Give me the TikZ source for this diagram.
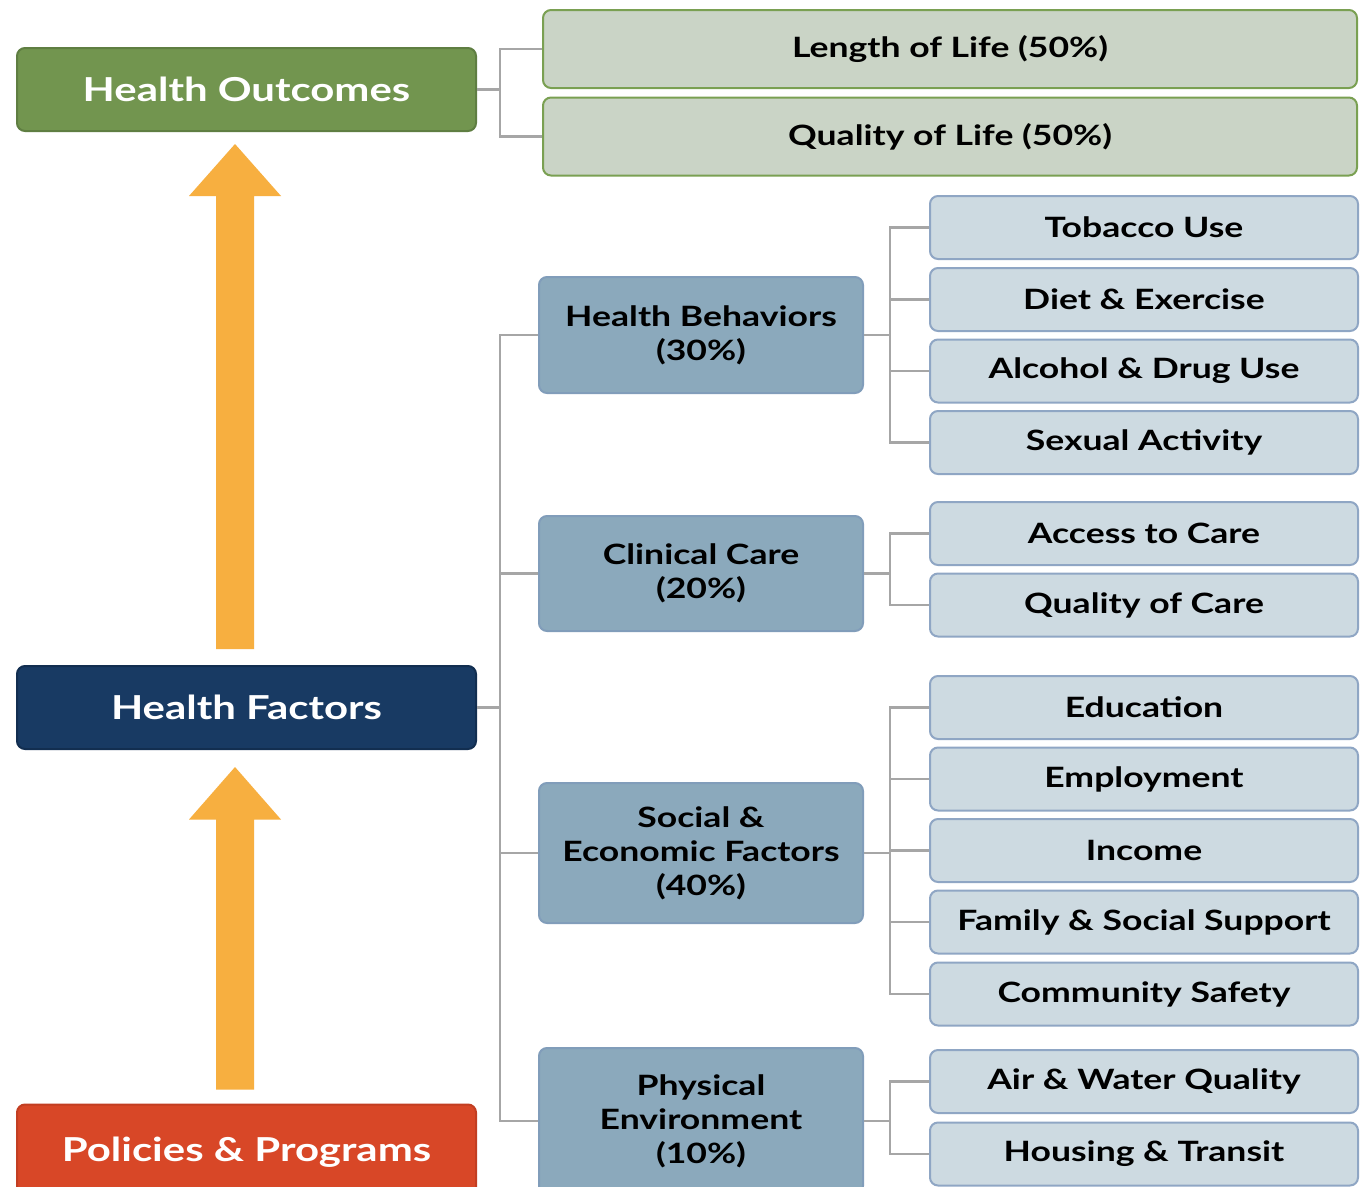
\documentclass[tikz,border=0pt]{standalone}
\usepackage{fontspec}
\setmainfont{Lato}[FakeStretch=1.27]
\usetikzlibrary{calc}
\definecolor{hoF}{HTML}{72954F}
\definecolor{hoD}{HTML}{5F7E42}
\definecolor{lolF}{HTML}{CAD4C6}
\definecolor{lolD}{HTML}{7AA052}
\definecolor{hfF}{HTML}{183A63}
\definecolor{hfD}{HTML}{122E50}
\definecolor{ppF}{HTML}{D84727}
\definecolor{ppD}{HTML}{C23E22}
\definecolor{midF}{HTML}{8BA9BC}
\definecolor{midD}{HTML}{819DBA}
\definecolor{smF}{HTML}{CDDAE1}
\definecolor{smD}{HTML}{8FA6C4}
\definecolor{connC}{HTML}{A6A6A6}
\definecolor{arrC}{HTML}{F7AF40}
\tikzset{
  base/.style={rounded corners=8pt, line width=2pt, align=center, inner sep=0pt, font=\bfseries\fontsize{28}{34}\selectfont, text=black},
  bigbox/.style={base, minimum width=459, minimum height=83, text=white, font=\bfseries\fontsize{33}{40}\selectfont},
  topbox/.style={base, fill=lolF, draw=lolD, minimum width=814, minimum height=78},
  midbox/.style={base, fill=midF, draw=midD, minimum width=324},
  smbox/.style={base, fill=smF, draw=smD, minimum width=428, minimum height=63},
  conn/.style={draw=connC, line width=2.5pt},
  upar/.style={fill=arrC}
}
\begin{document}
\begin{tikzpicture}[x=1pt,y=-1pt]
\clip (0,0) rectangle (1360,1186);
\fill[white] (0,0) rectangle (1360,1186);
\coordinate (ax) at (500,0);
\coordinate (bx) at (890,0);

% left column
\node[bigbox, fill=hoF, draw=hoD] (HO) at (246.5,89.5) {Health Outcomes};
\node[bigbox, fill=hfF, draw=hfD] (HF) at (246.5,707.5) {Health Factors};
\node[bigbox, fill=ppF, draw=ppD, minimum height=95] (PP) at (246.5,1152) {Policies \& Programs};

% outcomes
\node[topbox] (LoL) at (950,49) {Length of Life (50\%)};
\node[topbox] (QoL) at (950,136.5) {Quality of Life (50\%)};

% factor groups
\node[midbox, minimum height=116] (HB) at (701,335) {Health Behaviors\\(30\%)};
\node[midbox, minimum height=115] (CC) at (701,573.5) {Clinical Care\\(20\%)};
\node[midbox, minimum height=140] (SE) at (701,853) {Social \&\\Economic Factors\\(40\%)};
\node[midbox, minimum height=146] (PE) at (701,1121) {Physical\\Environment\\(10\%)};

% factors
\node[smbox] (tob) at (1144,227.5) {Tobacco Use};
\node[smbox] (die) at (1144,299.5) {Diet \& Exercise};
\node[smbox] (alc) at (1144,371) {Alcohol \& Drug Use};
\node[smbox] (sex) at (1144,442.5) {Sexual Activity};
\node[smbox] (acc) at (1144,533.5) {Access to Care};
\node[smbox] (qoc) at (1144,605) {Quality of Care};
\node[smbox] (edu) at (1144,707.5) {Education};
\node[smbox] (emp) at (1144,779) {Employment};
\node[smbox] (inc) at (1144,850.5) {Income};
\node[smbox] (fam) at (1144,922) {Family \& Social Support};
\node[smbox] (com) at (1144,994) {Community Safety};
\node[smbox] (air) at (1144,1081.5) {Air \& Water Quality};
\node[smbox] (hou) at (1144,1154) {Housing \& Transit};

% connectors
\foreach \t in {LoL,QoL}
  \draw[conn] (HO.east) -- (HO.east -| ax) |- (\t.west);
\foreach \t in {HB,CC,SE,PE}
  \draw[conn] (HF.east) -- (HF.east -| ax) |- (\t.west);
\foreach \t in {tob,die,alc,sex}
  \draw[conn] (HB.east) -- (HB.east -| bx) |- (\t.west);
\foreach \t in {acc,qoc}
  \draw[conn] (CC.east) -- (CC.east -| bx) |- (\t.west);
\foreach \t in {edu,emp,inc,fam,com}
  \draw[conn] (SE.east) -- (SE.east -| bx) |- (\t.west);
\foreach \t in {air,hou}
  \draw[conn] (PE.east) -- (PE.east -| bx) |- (\t.west);

% big arrows
\fill[upar] ($(HF.north)+(-30.5,-16)$) -- ++(0,-453) -- ++(-27,0)
  -- ($(HO.south)+(-11.5,12)$) -- ($(HF.north)+(34.5,-469)$) -- ++(-27,0) -- ++(0,453) -- cycle;
\fill[upar] ($(PP.north)+(-30.5,-14)$) -- ++(0,-270) -- ++(-27,0)
  -- ($(HF.south)+(-11.5,17)$) -- ($(PP.north)+(34.5,-284)$) -- ++(-27,0) -- ++(0,270) -- cycle;
\end{tikzpicture}
\end{document}
